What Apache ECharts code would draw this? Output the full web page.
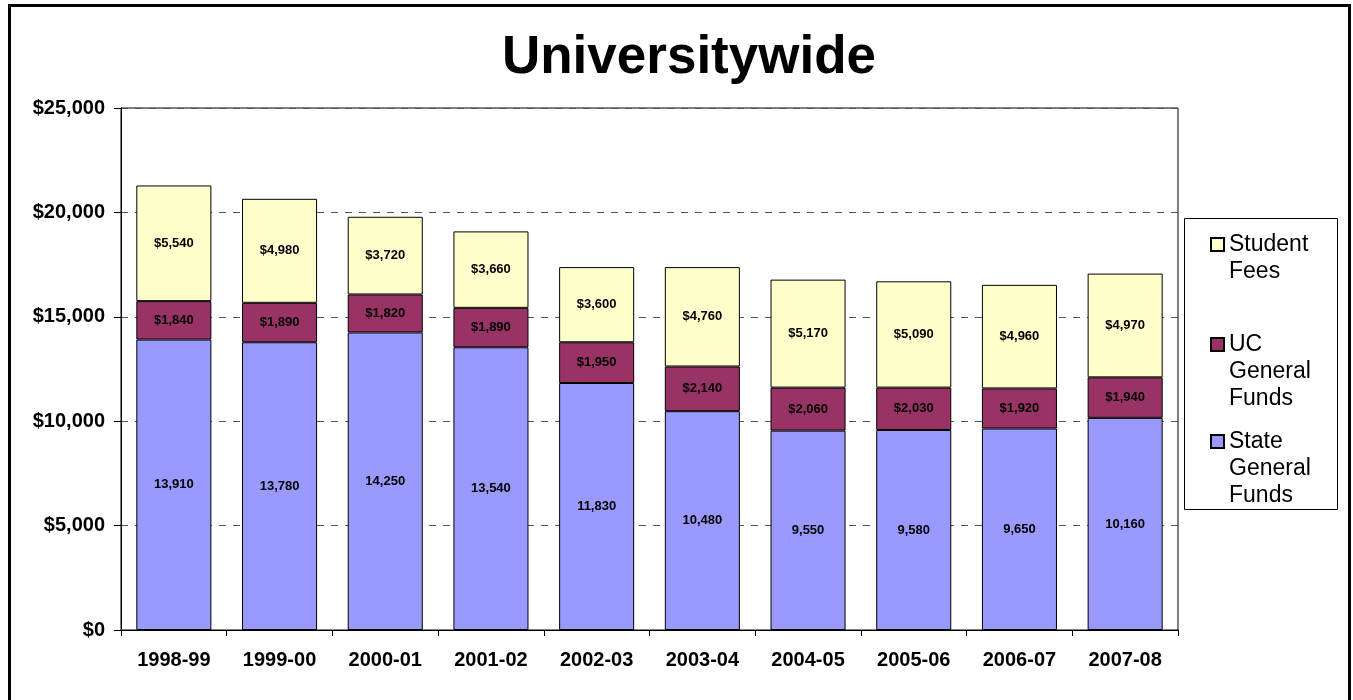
<!DOCTYPE html>
<html>
<head>
<meta charset="utf-8">
<title>Universitywide</title>
<script src="https://cdn.jsdelivr.net/npm/echarts@6/dist/echarts.min.js"></script>
<style>
  html, body { margin: 0; padding: 0; background: #fff; }
  #chart { width: 1353px; height: 700px; }
</style>
</head>
<body>
<div id="chart"></div>
<script>
// Fiscal years on the category axis
const years = ['1998-99', '1999-00', '2000-01', '2001-02', '2002-03', '2003-04', '2004-05', '2005-06', '2006-07', '2007-08'];

// Funding per student by source (dollars)
const stateGeneralFunds = [13910, 13780, 14250, 13540, 11830, 10480, 9550, 9580, 9650, 10160];
const ucGeneralFunds = [1840, 1890, 1820, 1890, 1950, 2140, 2060, 2030, 1920, 1940];
const studentFees = [5540, 4980, 3720, 3660, 3600, 4760, 5170, 5090, 4960, 4970];

// Value axis ticks
const yTicks = [0, 5000, 10000, 15000, 20000, 25000];

const FONT = '"Liberation Sans", Arial, sans-serif';
const fmt = v => v.toLocaleString('en-US');

const chart = echarts.init(document.getElementById('chart'), null, { renderer: 'canvas' });

const labelStyle = (prefix) => ({
  show: true,
  position: 'inside',
  color: '#000',
  fontFamily: FONT,
  fontWeight: 'bold',
  fontSize: 13,
  formatter: p => prefix + fmt(p.value)
});

// Legend text is centred on its swatch; leading blank lines put the
// first word level with the swatch and let the rest wrap below it.
const LH = 27;
const legendBase = (name, lines, top) => ({
  orient: 'vertical',
  left: 1210,
  top: top,
  padding: 0,
  itemWidth: 13,
  itemHeight: 13,
  itemGap: 0,
  icon: 'rect',
  selectedMode: false,
  data: [name],
  formatter: () => new Array(lines.length - 1).fill('\u00a0').concat(lines).join('\n'),
  textStyle: {
    fontFamily: FONT,
    fontSize: 23,
    color: '#000',
    lineHeight: LH
  }
});

chart.setOption({
  animation: false,
  backgroundColor: '#fff',
  title: {
    text: 'Universitywide',
    left: 684,
    top: 27,
    textAlign: 'center',
    textStyle: { fontFamily: FONT, fontSize: 53, fontWeight: 'bold', color: '#000' }
  },
  legend: [
    legendBase('Student Fees', ['Student', 'Fees'], 204),
    legendBase('UC General Funds', ['UC', 'General', 'Funds'], 277),
    legendBase('State General Funds', ['State', 'General', 'Funds'], 374)
  ],
  grid: {
    left: 121, right: 175, top: 108, bottom: 70,
    show: true,
    borderColor: '#000',
    borderWidth: 1,
    backgroundColor: 'transparent'
  },
  xAxis: {
    type: 'category',
    data: years,
    axisLine: { lineStyle: { color: '#000', width: 1 } },
    axisTick: { show: true, length: 6, lineStyle: { color: '#000' } },
    axisLabel: { color: '#000', fontFamily: FONT, fontWeight: 'bold', fontSize: 20, margin: 20 }
  },
  yAxis: {
    type: 'value',
    min: yTicks[0],
    max: yTicks[yTicks.length - 1],
    interval: yTicks[1] - yTicks[0],
    axisLine: { show: true, lineStyle: { color: '#000', width: 1 } },
    axisTick: { show: true, length: 7, lineStyle: { color: '#000' } },
    axisLabel: {
      color: '#000', fontFamily: FONT, fontWeight: 'bold', fontSize: 20, margin: 16,
      formatter: v => '$' + fmt(v)
    },
    splitLine: { show: true, lineStyle: { color: '#555', type: [7, 7], width: 1 } }
  },
  series: [
    {
      name: 'State General Funds',
      type: 'bar',
      stack: 'total',
      data: stateGeneralFunds,
      barCategoryGap: '29%',
      itemStyle: { color: '#9999FF', borderColor: '#000', borderWidth: 1 },
      label: labelStyle('')
    },
    {
      name: 'UC General Funds',
      type: 'bar',
      stack: 'total',
      data: ucGeneralFunds,
      barCategoryGap: '29%',
      itemStyle: { color: '#993366', borderColor: '#000', borderWidth: 1 },
      label: labelStyle('$')
    },
    {
      name: 'Student Fees',
      type: 'bar',
      stack: 'total',
      data: studentFees,
      barCategoryGap: '29%',
      itemStyle: { color: '#FFFFCC', borderColor: '#000', borderWidth: 1 },
      label: labelStyle('$')
    }
  ],
  graphic: [
    {
      // legend frame
      type: 'rect',
      shape: { x: 1184.5, y: 218.5, width: 153, height: 291 },
      style: { fill: 'none', stroke: '#000', lineWidth: 1 },
      z: 0
    },
    {
      // outer chart frame
      type: 'rect',
      shape: { x: 9.5, y: 5.5, width: 1340, height: 720 },
      style: { fill: 'none', stroke: '#000', lineWidth: 3 },
      z: 100
    }
  ]
});
</script>
</body>
</html>
